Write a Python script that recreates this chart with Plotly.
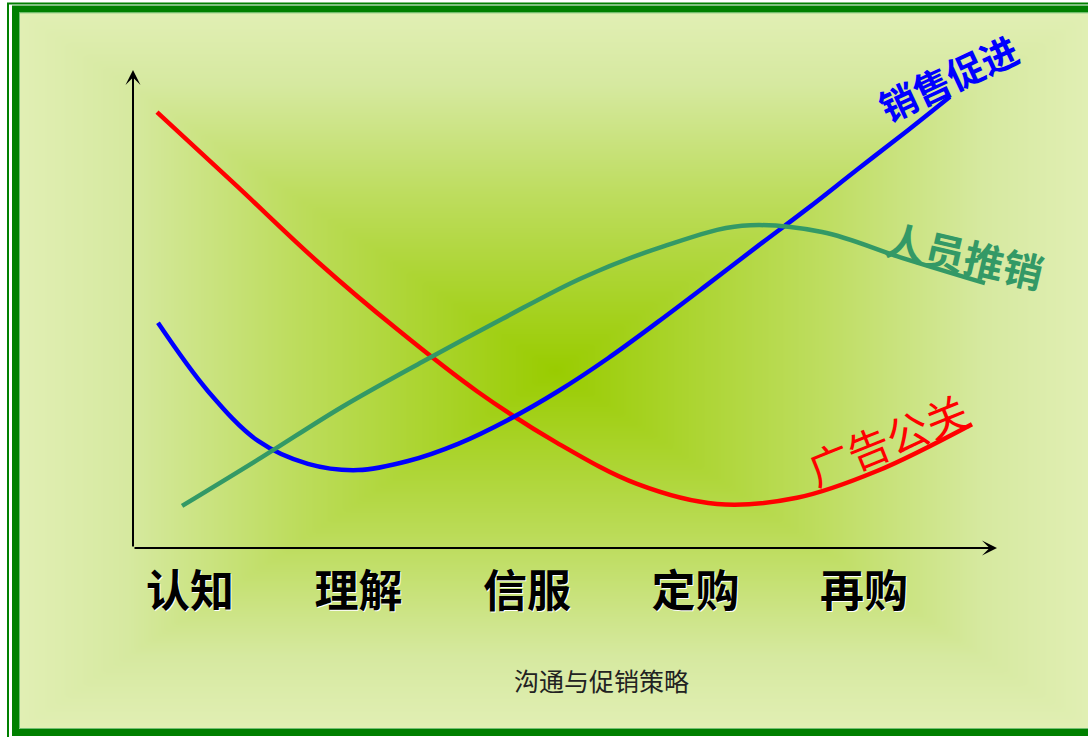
import numpy as np
import plotly.graph_objects as go

W, H = 1088, 737

# ---- data (stage index on x, level 0-100 on y) ----
stages = ["认知", "理解", "信服", "定购", "再购"]
stage_pos = [0, 1, 2, 3, 4]

ad_x = [-0.196, 0.279, 0.754, 1.228, 1.703, 2.178, 2.653, 3.128, 3.602, 4.077, 4.641]
ad_y = [91.2, 75.7, 60.0, 45.8, 32.8, 22.0, 13.4, 9.2, 10.5, 16.1, 25.9]

promo_x = [-0.190, 0.107, 0.404, 0.700, 0.997, 1.294, 1.591, 1.887, 2.184, 2.481,
           2.777, 3.074, 3.371, 3.668, 3.964, 4.261, 4.510]
promo_y = [47.1, 32.8, 22.4, 17.6, 16.3, 18.2, 21.8, 26.8, 32.8, 39.7,
           47.3, 55.2, 63.2, 71.1, 79.3, 87.4, 94.4]

sales_x = [-0.047, 0.427, 0.902, 1.377, 1.852, 2.326, 2.801, 3.276, 3.751, 4.225, 4.718]
sales_y = [8.8, 19.0, 29.5, 38.9, 47.9, 56.5, 63.0, 67.4, 66.1, 60.7, 55.4]

series_names = ["广告公关", "销售促进", "人员推销"]
title_text = "沟通与促销策略"

# axis ranges (data units)
XR = [-0.3383, 4.7893]
YR = [0, 100]

# ---- background gradient (decorative) ----
gx = np.arange(16, 1104, 6.0)
gy = np.arange(10, 734, 6.0)
GX, GY = np.meshgrid(gx, gy)
cx, cy, hw, hh = 555.0, 370.0, 535.0, 358.0
T = np.maximum(np.abs(GX - cx) / hw, np.abs(GY - cy) / hh)
T = np.clip(T, 0, 1)

fig = go.Figure()
fig.add_trace(go.Heatmap(
    x=gx, y=gy, z=T, zmin=0, zmax=1, zsmooth="best", showscale=False,
    colorscale=[[0, "#99cc00"], [0.5, "#bedd60"], [0.8, "#d6e9a0"], [1, "#e1efb4"]],
    hoverinfo="skip", xaxis="x", yaxis="y"))

line_w = 4.5
fig.add_trace(go.Scatter(x=ad_x, y=ad_y, mode="lines", name=series_names[0],
                         line=dict(color="#ff0000", width=line_w, shape="spline", smoothing=1.0),
                         xaxis="x2", yaxis="y2"))
fig.add_trace(go.Scatter(x=promo_x, y=promo_y, mode="lines", name=series_names[1],
                         line=dict(color="#0000ff", width=line_w, shape="spline", smoothing=1.0),
                         xaxis="x2", yaxis="y2"))
fig.add_trace(go.Scatter(x=sales_x, y=sales_y, mode="lines", name=series_names[2],
                         line=dict(color="#339966", width=line_w, shape="spline", smoothing=1.0),
                         xaxis="x2", yaxis="y2"))

annotations = []
# axis arrows
annotations.append(dict(x=XR[0], y=YR[1], ax=XR[0], ay=YR[0], xref="x2", yref="y2",
                        axref="x2", ayref="y2", showarrow=True, arrowhead=3, arrowsize=1.25,
                        arrowwidth=2, arrowcolor="#000000", text="", standoff=0))
annotations.append(dict(x=XR[1], y=YR[0], ax=XR[0], ay=YR[0], xref="x2", yref="y2",
                        axref="x2", ayref="y2", showarrow=True, arrowhead=3, arrowsize=1.25,
                        arrowwidth=2, arrowcolor="#000000", text="", standoff=0))
# series labels
annotations.append(dict(x=4.50, y=98.5, xref="x2", yref="y2", text=series_names[1],
                        showarrow=False, textangle=-25,
                        font=dict(family="Noto Sans CJK SC", size=37, color="#0000ff", weight="bold")))
annotations.append(dict(x=4.599, y=61.3, xref="x2", yref="y2", text=series_names[2],
                        showarrow=False, textangle=13,
                        font=dict(family="Noto Sans CJK SC", size=40, color="#339966", weight="bold")))
annotations.append(dict(x=4.136, y=23.0, xref="x2", yref="y2", text=series_names[0],
                        showarrow=False, textangle=-22,
                        font=dict(family="Noto Sans CJK SC", size=42, color="#ff0000")))
# title
annotations.append(dict(x=601 / W, y=1 - 680 / H, xref="paper", yref="paper", text=title_text,
                        showarrow=False, xanchor="center", yanchor="middle",
                        font=dict(family="Noto Sans CJK SC", size=25, color="#222222")))

shapes = [
    dict(type="rect", xref="x", yref="y", x0=8, y0=3.5, x1=1102, y1=750,
         line=dict(color="#008000", width=2), layer="above"),
    dict(type="rect", xref="x", yref="y", x0=15.5, y0=9, x1=1096, y1=732.5,
         line=dict(color="#008000", width=7), layer="above"),
    dict(type="rect", xref="x", yref="y", x0=19.5, y0=12.8, x1=1092, y1=728.5,
         line=dict(color="#74bf74", width=1), layer="above"),
]

fig.update_layout(
    width=W, height=H,
    margin=dict(l=0, r=0, t=0, b=0),
    paper_bgcolor="#ffffff", plot_bgcolor="rgba(0,0,0,0)",
    showlegend=False,
    xaxis=dict(range=[0, W], domain=[0, 1], visible=False, fixedrange=True),
    yaxis=dict(range=[H, 0], domain=[0, 1], visible=False, fixedrange=True),
    xaxis2=dict(range=XR, domain=[133 / W, 997 / W], anchor="y2",
                showgrid=False, zeroline=False, showline=False,
                tickmode="array", tickvals=stage_pos, ticktext=stages,
                ticks="outside", ticklen=5, tickcolor="rgba(0,0,0,0)",
                tickfont=dict(family="Noto Sans CJK SC", size=44, color="#000000",
                              weight="bold", shadow="1px 1px 0px #ffffff")),
    yaxis2=dict(range=YR, domain=[(H - 548) / H, (H - 70) / H], anchor="x2",
                showgrid=False, zeroline=False, showline=False, showticklabels=False),
    annotations=annotations,
    shapes=shapes,
)

fig.write_html("out.html", config={"displayModeBar": False, "staticPlot": True},
               post_script="document.body.style.margin='0';document.body.style.overflow='hidden';")
